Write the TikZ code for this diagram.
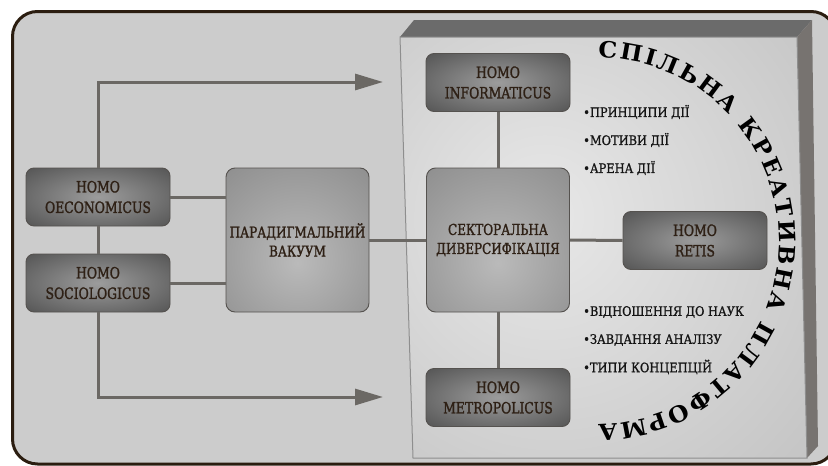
\documentclass[tikz,border=0pt]{standalone}
\usepackage{fontspec}
\setmainfont{DejaVu Serif}
\newfontfamily\slab[FakeStretch=0.8,FakeBold=1.5]{DejaVu Serif}
\newfontfamily\bulfont[FakeStretch=0.88,FakeBold=1]{DejaVu Serif}
\newfontfamily\arcfont[FakeStretch=1.05]{DejaVu Serif}
\usetikzlibrary{arrows.meta,decorations.text}
\definecolor{bg}{HTML}{CCCCCC}
\definecolor{framec}{HTML}{2B1D10}
\definecolor{connc}{HTML}{6B6864}
\definecolor{boxdk}{HTML}{545454}
\definecolor{boxdkc}{HTML}{9C9C9C}
\definecolor{boxlt}{HTML}{858585}
\definecolor{boxltc}{HTML}{BABABA}
\definecolor{boxline}{HTML}{55524F}
\definecolor{txt}{HTML}{2E2015}
\definecolor{bullc}{HTML}{141414}
\definecolor{topface}{HTML}{6B6B6B}
\definecolor{sideface}{HTML}{777370}
\definecolor{front1}{HTML}{E8E8E8}
\definecolor{front2}{HTML}{ABABAB}
\definecolor{frontline}{HTML}{8E8E8E}
\pgfdeclareradialshading{homoshade}{\pgfpoint{0bp}{0bp}}{color(0bp)=(boxdkc); color(36bp)=(boxdk); color(90bp)=(boxdk)}
\pgfdeclareradialshading{bigshade}{\pgfpoint{0bp}{-8bp}}{color(0bp)=(boxltc); color(48bp)=(boxlt); color(90bp)=(boxlt)}
\pgfdeclareradialshading{panelshade}{\pgfpoint{-8bp}{4bp}}{color(0bp)=(front1); color(70bp)=(front2); color(100bp)=(front2)}
\tikzset{
  homo/.style={draw=boxline, line width=0.9pt, rounded corners=8pt, shading=homoshade,
    minimum width=144pt, minimum height=58pt, inner sep=0pt, align=center, text=txt,
    font=\slab\fontsize{15.5}{20.5}\selectfont},
  big/.style={draw=boxline, line width=0.9pt, rounded corners=9pt, shading=bigshade,
    minimum width=143pt, minimum height=144pt, inner sep=0pt, align=center, text=txt,
    font=\slab\fontsize{15}{19}\selectfont},
  conn/.style={draw=connc, line width=3pt},
  arrowed/.style={-{Triangle[length=28pt,width=16pt]}},
  bul/.style={anchor=west, inner sep=0pt, text=bullc, font=\bulfont\fontsize{13}{14}\selectfont},
}
\begin{document}
\begin{tikzpicture}[x=1pt,y=-1pt]
\useasboundingbox (0,0) rectangle (828,466);
\clip (0,0) rectangle (828,466);
\fill[white] (0,0) rectangle (828,466);
% frame
\draw[draw=framec, line width=3pt, fill=bg, rounded corners=25pt] (12.5,11.5) rectangle (836,464);
% 3D panel
\fill[topface] (400,37) -- (414,20) -- (812,20) -- (797,37) -- cycle;
\fill[sideface] (797,37) -- (812,20) -- (818,446) -- (807,458) -- cycle;
\shade[shading=panelshade] (400,37) -- (797,37) -- (807,458) -- (413,458) -- cycle;
\draw[frontline, line width=1pt] (400,37) -- (797,37) -- (807,458) -- (413,458) -- cycle;
% boxes
\node[homo] (oec) at (98,197) {HOMO\\OECONOMICUS};
\node[homo] (soc) at (98,283) {HOMO\\SOCIOLOGICUS};
\node[big] (par) at (297.5,240) {ПАРАДИГМАЛЬНИЙ\\ВАКУУМ};
\node[homo] (inf) at (498,82.5) {HOMO\\INFORMATICUS};
\node[big] (sek) at (498,240) {СЕКТОРАЛЬНА\\ДИВЕРСИФІКАЦІЯ};
\node[homo] (ret) at (695,240.5) {HOMO\\RETIS};
\node[homo] (met) at (498,397.5) {HOMO\\METROPOLICUS};
% arrow ends
\coordinate (ta) at (383,82);
\coordinate (ba) at (383,397);
% connectors
\draw[conn,arrowed] (oec.north) |- (ta);
\draw[conn,arrowed] (soc.south) |- (ba);
\draw[conn] (oec.south) -- (soc.north);
\draw[conn] (oec.east) -- (oec.east -| par.west);
\draw[conn] (soc.east) -- (soc.east -| par.west);
\draw[conn] (par.east) -- (sek.west);
\draw[conn] (sek.east) -- (ret.west);
\draw[conn] (inf.south) -- (sek.north);
\draw[conn] (sek.south) -- (met.north);
% bullets
\node[bul] (b1) at (583,112) {•ПРИНЦИПИ ДІЇ};
\node[bul] (b2) at (583,140) {•МОТИВИ ДІЇ};
\node[bul] (b3) at (583,168) {•АРЕНА ДІЇ};
\node[bul] (b4) at (583,312) {•ВІДНОШЕННЯ ДО НАУК};
\node[bul] (b5) at (583,340) {•ЗАВДАННЯ АНАЛІЗУ};
\node[bul] (b6) at (583,367) {•ТИПИ КОНЦЕПЦІЙ};
% arc text
\path[decorate, decoration={text along path, text color=black,
  text={|\arcfont\bfseries\fontsize{22.5}{23}\selectfont|СПІЛЬНА КРЕАТИВНА ПЛАТФОРМА},
  text align={fit to path}}]
  (598,58) arc[start angle=-90, end angle=90, x radius=181, y radius=183];
\end{tikzpicture}
\end{document}
